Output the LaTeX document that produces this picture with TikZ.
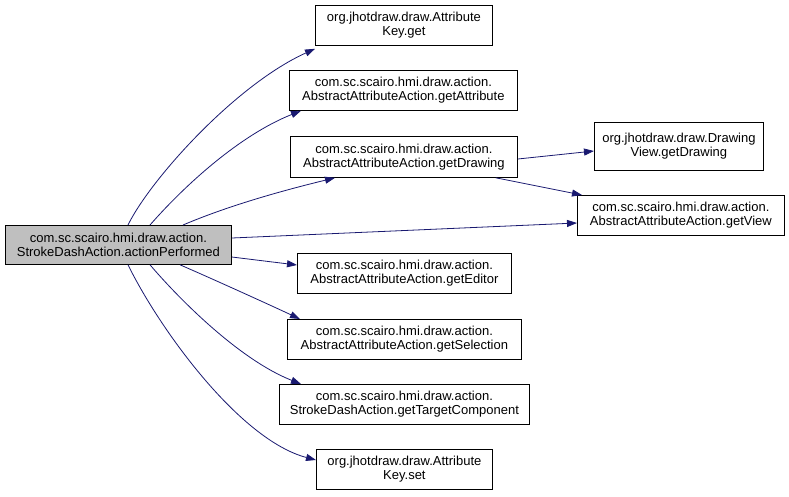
\documentclass[tikz,border=0pt]{standalone}
\usepackage{fontspec}
\setmainfont{Liberation Sans}
\usetikzlibrary{arrows.meta}
\definecolor{edgecol}{HTML}{191970}
\definecolor{mainfill}{HTML}{BFBFBF}
\tikzset{
  fn/.style={draw=black, line width=0.8pt, fill=white, inner sep=0pt, align=center,
    font=\fontsize{13pt}{14pt}\selectfont, anchor=north west},
  call/.style={draw=edgecol, line width=0.8pt, -{Triangle[length=10pt,width=7pt]}},
}
\begin{document}
\begin{tikzpicture}[x=1pt,y=-1pt]
\useasboundingbox (0,0) rectangle (789,496);
\node[fn, fill=mainfill, minimum width=226pt, minimum height=39pt] (main) at (5,225)
  {com.sc.scairo.hmi.draw.action.\\StrokeDashAction.actionPerformed};
\node[fn, minimum width=177pt, minimum height=40pt] (kget) at (315,5)
  {org.jhotdraw.draw.Attribute\\Key.get};
\node[fn, minimum width=228pt, minimum height=40pt] (gattr) at (289,70)
  {com.sc.scairo.hmi.draw.action.\\AbstractAttributeAction.getAttribute};
\node[fn, minimum width=227pt, minimum height=41pt] (gdraw) at (290,136)
  {com.sc.scairo.hmi.draw.action.\\AbstractAttributeAction.getDrawing};
\node[fn, minimum width=169pt, minimum height=48pt] (dvdraw) at (594,122)
  {org.jhotdraw.draw.Drawing\\View.getDrawing};
\node[fn, minimum width=207pt, minimum height=40pt] (gview) at (577,195)
  {com.sc.scairo.hmi.draw.action.\\AbstractAttributeAction.getView};
\node[fn, minimum width=214pt, minimum height=40pt] (gedit) at (297,253)
  {com.sc.scairo.hmi.draw.action.\\AbstractAttributeAction.getEditor};
\node[fn, minimum width=234pt, minimum height=40pt] (gsel) at (287,319)
  {com.sc.scairo.hmi.draw.action.\\AbstractAttributeAction.getSelection};
\node[fn, minimum width=250pt, minimum height=40pt] (gtarget) at (279,384)
  {com.sc.scairo.hmi.draw.action.\\StrokeDashAction.getTargetComponent};
\node[fn, minimum width=176pt, minimum height=40pt] (kset) at (316,449)
  {org.jhotdraw.draw.Attribute\\Key.set};

\draw[call] ([xshift=123pt]main.north west) .. controls (150,180) and (235,85) .. ([yshift=-3pt]kget.south west);
\draw[call] ([xshift=145pt]main.north west) .. controls (185,185) and (240,135) .. ([xshift=12pt]gattr.south west);
\draw[call] ([xshift=178pt]main.north west) .. controls (230,205) and (285,190) .. ([xshift=45pt]gdraw.south west);
\draw[call] ([yshift=-23pt]gdraw.north east) -- ([yshift=-29pt]dvdraw.north west);
\draw[call] ([xshift=-22pt]gdraw.south east) -- ([xshift=5pt]gview.north west);
\draw[call] ([yshift=-13pt]main.north east) -- ([yshift=-28pt]gview.north west);
\draw[call] ([yshift=-32pt]main.north east) -- ([yshift=-12pt]gedit.north west);
\draw[call] ([xshift=175pt]main.south west) .. controls (215,280) and (270,305) .. ([xshift=13pt]gsel.north west);
\draw[call] ([xshift=145pt]main.south west) .. controls (180,300) and (240,360) .. ([xshift=22pt]gtarget.north west);
\draw[call] ([xshift=123pt]main.south west) .. controls (160,330) and (240,440) .. ([yshift=-11pt]kset.north west);
\end{tikzpicture}
\end{document}
